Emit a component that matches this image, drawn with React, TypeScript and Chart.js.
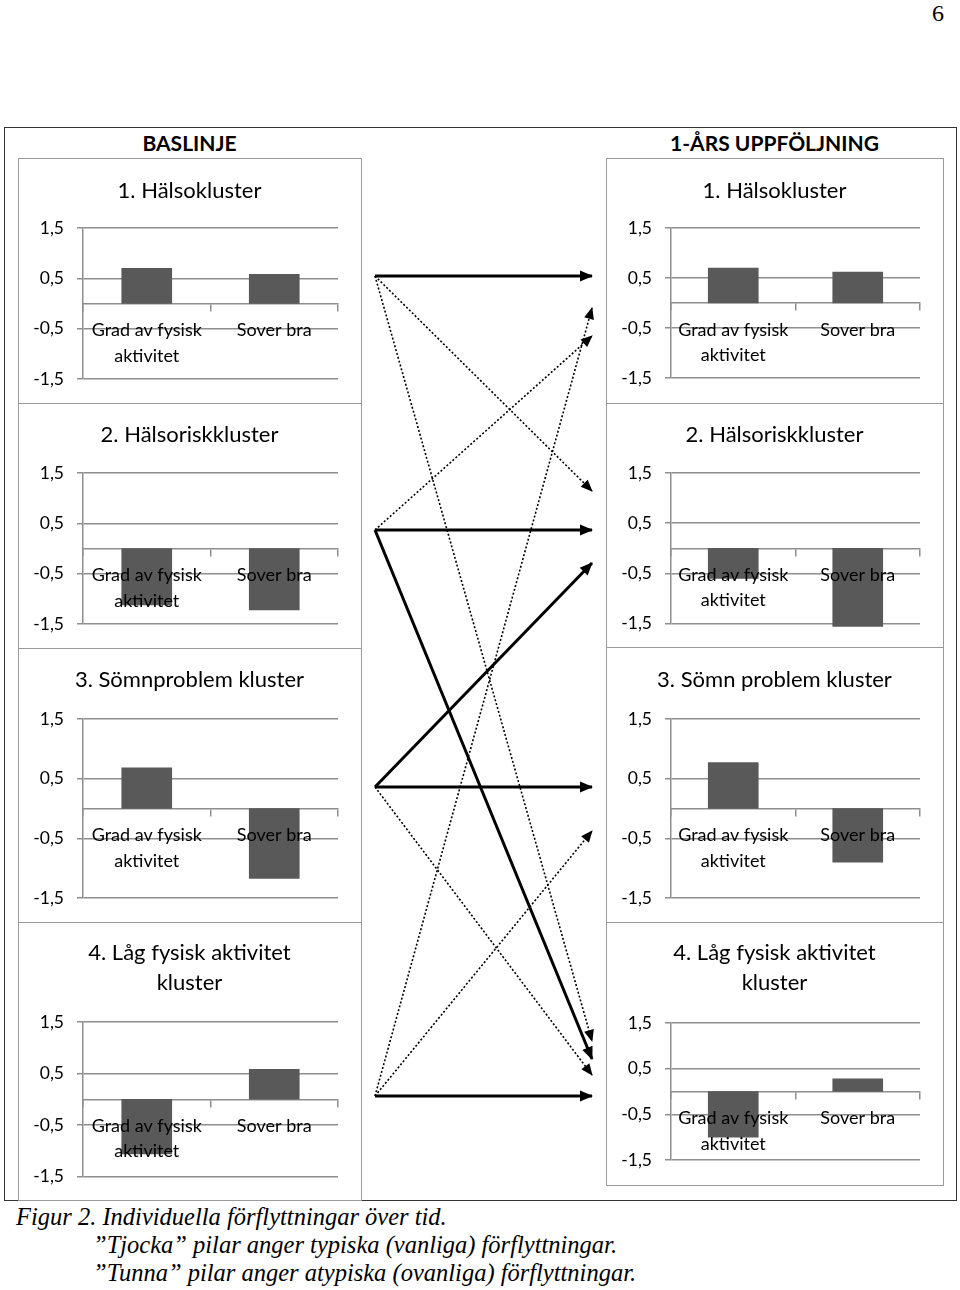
import React, { useEffect, useRef } from "react";
import { Chart, registerables } from "chart.js";

Chart.register(...registerables);

// ---------- data ----------
const categories: (string | string[])[] = [["Grad av fysisk", "aktivitet"], "Sover bra"];
const yTickValues = [-1.5, -0.5, 0.5, 1.5];

const baselineTitles = [
  ["1. Hälsokluster"],
  ["2. Hälsoriskkluster"],
  ["3. Sömnproblem kluster"],
  ["4. Låg fysisk aktivitet", "kluster"],
];
const followupTitles = [
  ["1. Hälsokluster"],
  ["2. Hälsoriskkluster"],
  ["3. Sömn problem kluster"],
  ["4. Låg fysisk aktivitet", "kluster"],
];

// [Grad av fysisk aktivitet, Sover bra]
const baselineCluster1 = [0.7, 0.58];
const baselineCluster2 = [-1.12, -1.22];
const baselineCluster3 = [0.68, -1.17];
const baselineCluster4 = [-1.06, 0.58];
const followupCluster1 = [0.7, 0.62];
const followupCluster2 = [-0.6, -1.56];
const followupCluster3 = [0.77, -0.9];
const followupCluster4 = [-1.0, 0.28];

// transitions between clusters (baseline -> 1 year)
const transitionFrom = [1, 1, 1, 2, 2, 2, 3, 3, 3, 4, 4, 4];
const transitionTo = [1, 2, 4, 1, 2, 4, 2, 3, 4, 1, 3, 4];
const transitionTypical = [true, false, false, false, true, true, true, true, false, false, false, true];

const headerLeft = "BASLINJE";
const headerRight = "1-ÅRS UPPFÖLJNING";
const pageNumber = "6";
const captionLines = [
  "Figur 2. Individuella förflyttningar över tid.",
  "”Tjocka” pilar anger typiska (vanliga) förflyttningar.",
  "”Tunna” pilar anger atypiska (ovanliga) förflyttningar.",
];

// ---------- layout ----------
const FONT = "Lato, 'Open Sans', sans-serif";
const GRID = "#8e8e8e";
const BAR = "#595959";
const BOX_BORDER = "#9a9a9a";

const LEFT_BOX_X = [18, 361];
const RIGHT_BOX_X = [606, 943];
const LEFT_ROWS = [[158, 403], [403, 648], [648, 922], [922, 1200]];
const RIGHT_ROWS = [[158, 403], [403, 647], [647, 922], [922, 1185]];
const LEFT_PLOT_X = [83, 338];
const RIGHT_PLOT_X = [671, 920];
const LEFT_PLOT_Y = [[228, 379], [473, 624], [719, 898], [1022, 1178]];
const RIGHT_PLOT_Y = [[228, 378], [473, 624], [719, 898], [1023, 1160]];
const TITLE_CENTER_Y = [190, 434, 679, 952];
const TITLE_LINE_H = 30;

const ARROW_BOX = { x0: 362, x1: 606, y0: 158, y1: 1200 };
const ARROW_X = [375, 592];
const ROW_ANCHOR_Y = [276, 530, 787, 1096];
const ARROW_END_OFFSET = [0, -39, -55, 60, 0, -37, 33, 0, -21, 32, 44, 0];

type Box = { x0: number; x1: number; y0: number; y1: number };

function ClusterChart({ values, box, plot }: { values: number[]; box: Box; plot: Box }) {
  const ref = useRef<HTMLCanvasElement>(null);
  const w = box.x1 - box.x0;
  const h = box.y1 - box.y0;
  useEffect(() => {
    const chart = new Chart(ref.current!, {
      type: "bar",
      data: {
        labels: categories,
        datasets: [
          {
            data: values,
            backgroundColor: BAR,
            borderWidth: 0,
            barThickness: 50,
            clip: false as any,
          },
        ],
      },
      options: {
        animation: false,
        responsive: false,
        devicePixelRatio: 1,
        events: [],
        layout: {
          padding: {
            left: 0,
            top: plot.y0 - box.y0,
            right: box.x1 - plot.x1,
            bottom: box.y1 - plot.y1,
          },
        },
        plugins: { legend: { display: false }, tooltip: { enabled: false }, title: { display: false } },
        scales: {
          x: {
            type: "category",
            position: { y: 0 } as any,
            offset: true,
            grid: {
              offset: true,
              drawOnChartArea: false,
              drawTicks: true,
              tickLength: 7,
              color: GRID,
              lineWidth: 1.5,
            },
            border: { display: true, color: GRID, width: 1.5 },
            ticks: {
              autoSkip: false,
              maxRotation: 0,
              minRotation: 0,
              padding: 7,
              color: "#000",
              font: { family: FONT, size: 18, lineHeight: 1.42 },
              z: 1,
            } as any,
          },
          y: {
            type: "linear",
            min: -1.5,
            max: 1.5,
            afterBuildTicks: (s: any) => {
              s.ticks = yTickValues.map((v) => ({ value: v }));
            },
            afterFit: (s: any) => {
              s.width = plot.x0 - box.x0;
            },
            grid: { color: GRID, lineWidth: 1.5, tickLength: 6, drawTicks: true },
            border: { display: true, color: GRID, width: 1.5 },
            ticks: {
              padding: 13,
              color: "#000",
              font: { family: FONT, size: 17.5 },
              callback: (v: any) => String(v).replace(".", ","),
            },
          },
        },
      },
    });
    return () => chart.destroy();
  }, []);
  return (
    <canvas
      ref={ref}
      width={w}
      height={h}
      style={{ position: "absolute", left: box.x0, top: box.y0, width: w, height: h }}
    />
  );
}

const arrowHeads = {
  id: "arrowHeads",
  afterDatasetsDraw(chart: any) {
    const ctx = chart.ctx;
    chart.data.datasets.forEach((_ds: any, i: number) => {
      const meta = chart.getDatasetMeta(i);
      const p0 = meta.data[0];
      const p1 = meta.data[1];
      const ang = Math.atan2(p1.y - p0.y, p1.x - p0.x);
      const typical = transitionTypical[i];
      const L = typical ? 12 : 11;
      const W = typical ? 11 : 10;
      ctx.save();
      ctx.translate(p1.x, p1.y);
      ctx.rotate(ang);
      ctx.beginPath();
      ctx.moveTo(1, 0);
      ctx.lineTo(-L, -W / 2);
      ctx.lineTo(-L, W / 2);
      ctx.closePath();
      ctx.fillStyle = "#000";
      ctx.fill();
      ctx.restore();
    });
  },
};

function ArrowChart() {
  const ref = useRef<HTMLCanvasElement>(null);
  const w = ARROW_BOX.x1 - ARROW_BOX.x0;
  const h = ARROW_BOX.y1 - ARROW_BOX.y0;
  useEffect(() => {
    const datasets = transitionFrom.map((from, i) => {
      const to = transitionTo[i];
      const typical = transitionTypical[i];
      return {
        data: [
          { x: 0, y: ROW_ANCHOR_Y[from - 1] },
          { x: 1, y: ROW_ANCHOR_Y[to - 1] + ARROW_END_OFFSET[i] },
        ],
        showLine: true,
        borderColor: "#000",
        borderWidth: typical ? 3 : 1.6,
        borderDash: typical ? [] : [2, 2],
        pointRadius: 0,
        tension: 0,
        clip: false as any,
      };
    });
    const chart = new Chart(ref.current!, {
      type: "scatter",
      data: { datasets },
      options: {
        animation: false,
        responsive: false,
        devicePixelRatio: 1,
        events: [],
        layout: {
          padding: {
            left: ARROW_X[0] - ARROW_BOX.x0,
            right: ARROW_BOX.x1 - ARROW_X[1],
            top: 0,
            bottom: 0,
          },
        },
        plugins: { legend: { display: false }, tooltip: { enabled: false } },
        scales: {
          x: { type: "linear", min: 0, max: 1, display: false },
          y: { type: "linear", min: ARROW_BOX.y0, max: ARROW_BOX.y1, reverse: true, display: false },
        },
      },
      plugins: [arrowHeads],
    });
    return () => chart.destroy();
  }, []);
  return (
    <canvas
      ref={ref}
      width={w}
      height={h}
      style={{ position: "absolute", left: ARROW_BOX.x0, top: ARROW_BOX.y0, width: w, height: h }}
    />
  );
}

// cy = centre of the first line
function CenterText({ cx, cy, lines, size, bold, lh }: { cx: number; cy: number; lines: string[]; size: number; bold?: boolean; lh: number }) {
  return (
    <div
      style={{
        position: "absolute",
        left: cx - 200,
        width: 400,
        top: cy - lh / 2,
        textAlign: "center",
        fontFamily: FONT,
        fontSize: size,
        fontWeight: bold ? 700 : 400,
        lineHeight: lh + "px",
        color: "#000",
        whiteSpace: "nowrap",
      }}
    >
      {lines.map((l, i) => (
        <div key={i}>{l}</div>
      ))}
    </div>
  );
}

function BoxBorder({ box }: { box: Box }) {
  return (
    <div
      style={{
        position: "absolute",
        left: box.x0,
        top: box.y0,
        width: box.x1 - box.x0 + 1,
        height: box.y1 - box.y0 + 1,
        border: `1.5px solid ${BOX_BORDER}`,
        boxSizing: "border-box",
        pointerEvents: "none",
      }}
    />
  );
}

export default function App() {
  const leftValues = [baselineCluster1, baselineCluster2, baselineCluster3, baselineCluster4];
  const rightValues = [followupCluster1, followupCluster2, followupCluster3, followupCluster4];

  const leftBoxes = LEFT_ROWS.map((r) => ({ x0: LEFT_BOX_X[0], x1: LEFT_BOX_X[1], y0: r[0], y1: r[1] }));
  const rightBoxes = RIGHT_ROWS.map((r) => ({ x0: RIGHT_BOX_X[0], x1: RIGHT_BOX_X[1], y0: r[0], y1: r[1] }));
  const leftPlots = LEFT_PLOT_Y.map((r) => ({ x0: LEFT_PLOT_X[0], x1: LEFT_PLOT_X[1], y0: r[0], y1: r[1] }));
  const rightPlots = RIGHT_PLOT_Y.map((r) => ({ x0: RIGHT_PLOT_X[0], x1: RIGHT_PLOT_X[1], y0: r[0], y1: r[1] }));

  const leftCx = (LEFT_BOX_X[0] + LEFT_BOX_X[1]) / 2;
  const rightCx = (RIGHT_BOX_X[0] + RIGHT_BOX_X[1]) / 2;

  return (
    <div style={{ position: "absolute", left: 0, top: 0, width: 960, height: 1290, background: "#fff", overflow: "hidden" }}>
      <div
        style={{
          position: "absolute",
          left: 925,
          width: 26,
          top: 0,
          textAlign: "center",
          fontFamily: "'Liberation Serif', 'Times New Roman', serif",
          fontSize: 24,
          lineHeight: "26px",
        }}
      >
        {pageNumber}
      </div>

      <div
        style={{
          position: "absolute",
          left: 4,
          top: 127,
          width: 953,
          height: 1074,
          border: "1.5px solid #333",
          boxSizing: "border-box",
        }}
      />

      <CenterText cx={leftCx} cy={143} lines={[headerLeft]} size={21} bold lh={26} />
      <CenterText cx={rightCx} cy={143} lines={[headerRight]} size={21} bold lh={26} />

      {leftBoxes.map((b, i) => (
        <ClusterChart key={"l" + i} values={leftValues[i]} box={b} plot={leftPlots[i]} />
      ))}
      {rightBoxes.map((b, i) => (
        <ClusterChart key={"r" + i} values={rightValues[i]} box={b} plot={rightPlots[i]} />
      ))}

      {leftBoxes.map((b, i) => (
        <BoxBorder key={"lb" + i} box={b} />
      ))}
      {rightBoxes.map((b, i) => (
        <BoxBorder key={"rb" + i} box={b} />
      ))}

      {baselineTitles.map((t, i) => (
        <CenterText key={"lt" + i} cx={leftCx} cy={TITLE_CENTER_Y[i]} lines={t} size={22} lh={TITLE_LINE_H} />
      ))}
      {followupTitles.map((t, i) => (
        <CenterText key={"rt" + i} cx={rightCx} cy={TITLE_CENTER_Y[i]} lines={t} size={22} lh={TITLE_LINE_H} />
      ))}

      <ArrowChart />

      <div
        style={{
          position: "absolute",
          left: 16,
          top: 1203,
          fontFamily: "'Liberation Serif', 'Times New Roman', serif",
          fontStyle: "italic",
          fontSize: 24.5,
          lineHeight: "28px",
          color: "#000",
          whiteSpace: "nowrap",
        }}
      >
        <div>{captionLines[0]}</div>
        <div style={{ paddingLeft: 77 }}>{captionLines[1]}</div>
        <div style={{ paddingLeft: 77 }}>{captionLines[2]}</div>
      </div>
    </div>
  );
}
